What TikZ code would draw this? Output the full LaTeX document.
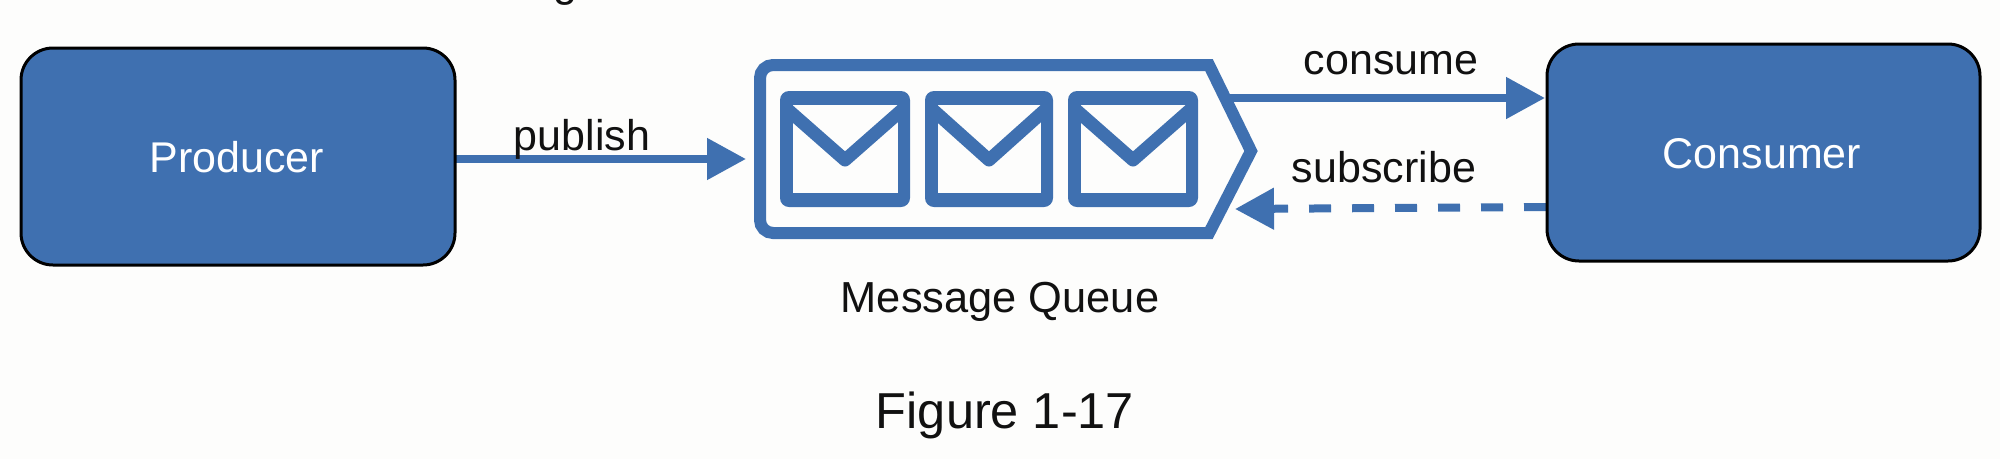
\documentclass[tikz,border=0pt]{standalone}
\usepackage{fontspec}
\setmainfont{Liberation Sans}
\usetikzlibrary{arrows.meta}
\definecolor{qblue}{HTML}{3F70B0}
\definecolor{paper}{HTML}{FDFDFC}
\definecolor{ink}{HTML}{111111}
\tikzset{
  x=1pt,y=-1pt,
  actor/.style={fill=qblue,draw=black,line width=3pt,rounded corners=32pt},
  lbl/.style={inner sep=0pt,text=ink,anchor=base,font=\fontsize{43}{50}\selectfont},
  wlbl/.style={lbl,text=white},
  conn/.style={draw=qblue,line width=8pt,-{Triangle[length=39pt,width=40pt]}},
  dashconn/.style={conn,dash pattern=on 22pt off 21pt},
  qline/.style={draw=qblue,line width=12pt,line join=miter,miter limit=10},
  envout/.style={fill=qblue,rounded corners=9pt},
  envin/.style={fill=paper},
  flap/.style={draw=qblue,line width=13pt,line join=round}
}
\newcommand{\envelope}[2]{%
  \fill[envout] (#1,91) rectangle (#1+#2,207);
  \fill[envin] (#1+12.5,105) rectangle (#1+#2-12,193);
  \draw[flap] (#1+7,109) -- (#1+#2/2,160) -- (#1+#2-7,109);
}
\begin{document}
\begin{tikzpicture}
\useasboundingbox (0,0) rectangle (2000,459);
\fill[paper] (0,0) rectangle (2000,459);
\node[lbl] (top) at (565,-4) {g};
\coordinate (prod) at (455,159);
\coordinate (qin) at (746,159);
\coordinate (qout) at (1228,98);
\coordinate (cin) at (1545,98);
\coordinate (cout) at (1546,207);
\coordinate (qsub) at (1235,209);
\draw[conn] (prod) -- (qin);
\draw[conn] (qout) -- (cin);
\draw[dashconn] (cout) -- (qsub);
\draw[actor] (21,48) rectangle (455,265);
\draw[actor] (1547,44) rectangle (1980,261);
\draw[qline] (1209,65) [rounded corners=13pt] -- (760,65) -- (760,233) [sharp corners] -- (1209,233) -- (1251,151) -- cycle;
\envelope{780}{130}
\envelope{925}{128}
\envelope{1068}{130}
\node[wlbl] (producer) at (237,172) {Producer};
\node[wlbl] (consumer) at (1762,168) {Consumer};
\node[lbl] (publish) at (582,150) {publish};
\node[lbl] (consume) at (1391,74) {consume};
\node[lbl] (subscribe) at (1384,182) {subscribe};
\node[lbl,font=\fontsize{43.4}{50}\selectfont] (queue) at (1000,312) {Message Queue};
\node[lbl,font=\fontsize{50.5}{60}\selectfont] (figure) at (1005,428) {Figure 1-17};
\end{tikzpicture}
\end{document}
